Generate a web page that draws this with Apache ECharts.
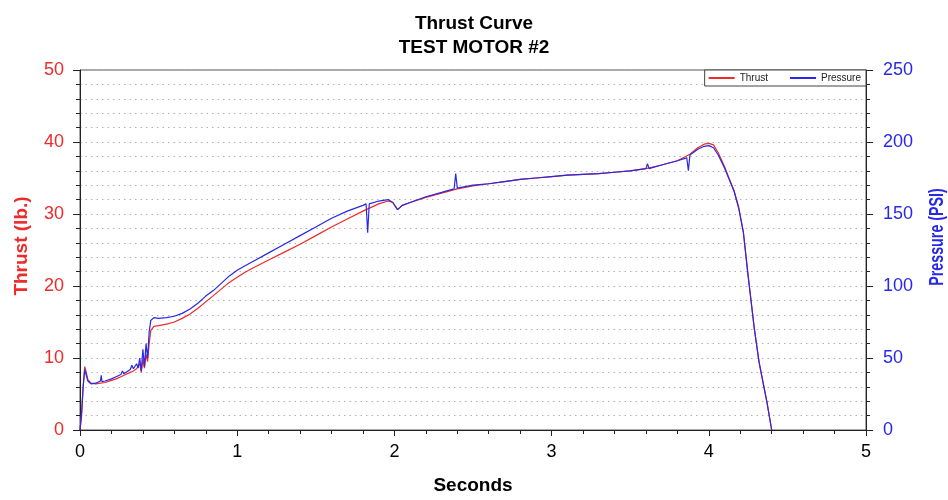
<!DOCTYPE html>
<html>
<head>
<meta charset="utf-8">
<title>Thrust Curve</title>
<script src="https://cdn.jsdelivr.net/npm/echarts@6/dist/echarts.min.js"></script>
<style>
  html, body { margin: 0; padding: 0; background: #fff; }
  #chart { width: 948px; height: 500px; }
</style>
</head>
<body>
<div id="chart"></div>
<script>
// thrust in lb, [seconds, lb]
var thrustData = [
  [0.00, 0], [0.01, 2.5], [0.02, 6], [0.03, 8.8], [0.04, 8.0], [0.05, 7.0], [0.07, 6.5],
  [0.10, 6.4], [0.13, 6.5], [0.16, 6.6], [0.20, 6.9], [0.23, 7.1], [0.26, 7.4], [0.29, 7.7],
  [0.32, 8.0], [0.34, 8.2], [0.36, 8.5], [0.37, 8.3], [0.38, 9.2], [0.39, 8.0], [0.40, 9.8],
  [0.41, 8.6], [0.42, 10.5], [0.43, 9.5], [0.44, 12.0], [0.45, 13.8], [0.47, 14.4], [0.50, 14.5],
  [0.55, 14.7], [0.60, 15.0], [0.65, 15.5], [0.70, 16.1], [0.75, 16.9], [0.80, 17.8], [0.85, 18.7],
  [0.90, 19.6], [0.95, 20.5], [1.00, 21.2], [1.05, 21.9], [1.10, 22.5], [1.20, 23.6], [1.30, 24.7],
  [1.40, 25.8], [1.50, 27.0], [1.60, 28.2], [1.70, 29.3], [1.80, 30.4], [1.90, 31.4], [1.96, 31.8],
  [1.99, 31.6], [2.02, 30.6], [2.05, 31.2], [2.10, 31.6], [2.20, 32.3], [2.30, 32.9], [2.40, 33.5],
  [2.50, 33.9], [2.60, 34.2], [2.70, 34.5], [2.80, 34.8], [2.90, 35.0], [3.00, 35.2], [3.10, 35.4],
  [3.20, 35.5], [3.30, 35.6], [3.40, 35.8], [3.50, 36.0], [3.60, 36.3], [3.70, 36.8], [3.80, 37.4],
  [3.88, 38.3], [3.93, 39.2], [3.97, 39.7], [4.00, 39.8], [4.03, 39.6], [4.06, 38.5], [4.10, 36.6],
  [4.13, 34.9], [4.16, 33.3], [4.19, 31.0], [4.22, 27.5], [4.25, 21.5], [4.29, 14.0], [4.32, 9.4],
  [4.37, 3.9], [4.40, 0]
];

// chamber pressure in PSI, [seconds, psi]
var pressureData = [
  [0.00, 0], [0.01, 10], [0.02, 30], [0.03, 42], [0.04, 38], [0.05, 34], [0.07, 32],
  [0.10, 32.5], [0.13, 34], [0.135, 38], [0.14, 33.5], [0.16, 34], [0.20, 35.5], [0.23, 37],
  [0.26, 38.5], [0.27, 41], [0.28, 39], [0.29, 40], [0.32, 42], [0.33, 45], [0.34, 42.5],
  [0.36, 46], [0.37, 43], [0.38, 50], [0.39, 41], [0.40, 56], [0.41, 44], [0.42, 60], [0.43, 50],
  [0.44, 68], [0.45, 76], [0.47, 78], [0.50, 77.5], [0.55, 78], [0.60, 79], [0.65, 81], [0.70, 84],
  [0.75, 88], [0.80, 93], [0.85, 97], [0.90, 102], [0.95, 107], [1.00, 111], [1.05, 114],
  [1.10, 117], [1.20, 123], [1.30, 129], [1.40, 135], [1.50, 141], [1.60, 147], [1.70, 152],
  [1.80, 156], [1.82, 157], [1.83, 137], [1.84, 157], [1.90, 159], [1.96, 160], [1.99, 158],
  [2.02, 153], [2.05, 156], [2.10, 158], [2.20, 162], [2.30, 165], [2.38, 167.5], [2.39, 178],
  [2.40, 168], [2.50, 170], [2.60, 171], [2.70, 172.5], [2.80, 174], [2.90, 175], [3.00, 176],
  [3.10, 177], [3.20, 177.5], [3.30, 178], [3.40, 179], [3.50, 180], [3.60, 181.5], [3.61, 185],
  [3.62, 181.5], [3.70, 184], [3.80, 187], [3.86, 189], [3.87, 180], [3.88, 191], [3.93, 195],
  [3.97, 197], [4.00, 197.5], [4.03, 196], [4.06, 191], [4.10, 182], [4.13, 174], [4.16, 166],
  [4.19, 154], [4.22, 137], [4.25, 107], [4.29, 70], [4.32, 47], [4.37, 19], [4.40, 0]
];

var font = 'Liberation Sans, Arial, sans-serif';
var red = '#ee2a2a';
var blue = '#2828e8';
var gridDots = { color: '#b0b0b0', type: [1.5, 4] };

var chart = echarts.init(document.getElementById('chart'));
chart.setOption({
  animation: false,
  title: {
    text: 'Thrust Curve\nTEST MOTOR #2',
    left: 'center',
    top: 7,
    textStyle: { fontFamily: font, fontSize: 19, fontWeight: 'bold', color: '#000', lineHeight: 24 }
  },
  legend: {
    right: 82,
    top: 70,
    itemWidth: 26,
    itemHeight: 2,
    itemGap: 22,
    padding: [3, 5, 3, 4],
    backgroundColor: '#fff',
    borderColor: '#444',
    borderWidth: 1,
    borderRadius: 0,
    textStyle: { fontFamily: font, fontSize: 10, color: '#222' },
    data: [
      { name: 'Thrust', icon: 'rect' },
      { name: 'Pressure', icon: 'rect' }
    ]
  },
  graphic: [
    {
      type: 'text', x: 22, y: 246, rotation: Math.PI / 2,
      style: { text: 'Thrust (lb.)', fill: red, font: 'bold 19px ' + font, align: 'center', verticalAlign: 'middle' }
    },
    {
      // the pressure label is drawn condensed in the original
      type: 'text', x: 937, y: 237, rotation: Math.PI / 2, scaleX: 0.68,
      style: { text: 'Pressure (PSI)', fill: blue, font: 'bold 21px ' + font, align: 'center', verticalAlign: 'middle' }
    }
  ],
  grid: {
    left: 80,
    right: 82,
    top: 70,
    bottom: 69,
    show: true,
    borderColor: '#555',
    borderWidth: 1
  },
  xAxis: {
    type: 'value',
    min: 0,
    max: 5,
    interval: 1,
    name: 'Seconds',
    nameLocation: 'middle',
    nameGap: 46,
    nameTextStyle: { fontFamily: font, fontSize: 19, fontWeight: 'bold', color: '#000' },
    axisLine: { lineStyle: { color: '#222' } },
    axisTick: { length: 6, lineStyle: { color: '#222' } },
    minorTick: { show: true, splitNumber: 5, length: 4, lineStyle: { color: '#222' } },
    axisLabel: { fontFamily: font, fontSize: 18, color: '#000', margin: 13 },
    splitLine: { show: false }
  },
  yAxis: [
    {
      type: 'value',
      min: 0,
      max: 50,
      interval: 10,
      axisLine: { show: true, lineStyle: { color: '#222' } },
      axisTick: { show: true, length: 7, lineStyle: { color: '#222' } },
      minorTick: { show: true, splitNumber: 5, length: 4, lineStyle: { color: '#222' } },
      axisLabel: { fontFamily: font, fontSize: 18, color: red, margin: 16 },
      splitLine: { show: true, lineStyle: gridDots },
      minorSplitLine: { show: true, lineStyle: gridDots }
    },
    {
      type: 'value',
      min: 0,
      max: 250,
      interval: 50,
      axisLine: { show: true, lineStyle: { color: '#222' } },
      axisTick: { show: true, length: 7, lineStyle: { color: '#222' } },
      minorTick: { show: true, splitNumber: 5, length: 4, lineStyle: { color: '#222' } },
      axisLabel: { fontFamily: font, fontSize: 18, color: blue, margin: 17 },
      splitLine: { show: false }
    }
  ],
  series: [
    {
      name: 'Thrust',
      type: 'line',
      yAxisIndex: 0,
      symbol: 'none',
      data: thrustData,
      color: red,
      lineStyle: { width: 1.2, color: red }
    },
    {
      name: 'Pressure',
      type: 'line',
      yAxisIndex: 1,
      symbol: 'none',
      data: pressureData,
      color: blue,
      lineStyle: { width: 1.2, color: blue }
    }
  ]
});
</script>
</body>
</html>
